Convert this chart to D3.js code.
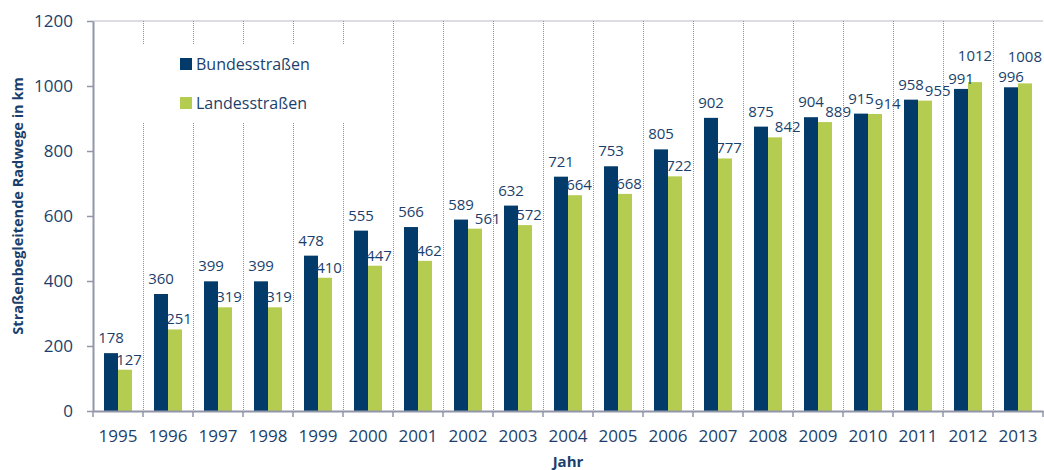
<!DOCTYPE html>
<html><head><meta charset="utf-8">
<script src="https://cdn.jsdelivr.net/npm/d3@7"></script>
<style>body{margin:0;background:#fff}svg{display:block;font-family:"Open Sans",sans-serif}</style>
</head><body><svg id="c" width="1044" height="470"></svg>
<script>
const years = ["1995","1996","1997","1998","1999","2000","2001","2002","2003","2004","2005","2006","2007","2008","2009","2010","2011","2012","2013"];
const bundes = [178,360,399,399,478,555,566,589,632,721,753,805,902,875,904,915,958,991,996];
const landes = [127,251,319,319,410,447,462,561,572,664,668,722,777,842,889,914,955,1012,1008];
const seriesNames = ["Bundesstraßen","Landesstraßen"];
const yTicks = [0,200,400,600,800,1000,1200];

const colors = ["#023a69","#b4cc50"];
const textCol = "#1b3f6c";
const svg = d3.select("#c");
const L = 93, R = 1043, T = 21, B = 411;
const x = d3.scaleBand().domain(years).range([L,R]).paddingInner(0.44).paddingOuter(0.22);
const x1 = d3.scaleBand().domain(seriesNames).range([0,x.bandwidth()]);
const y = d3.scaleLinear().domain([0,1200]).range([B,T]);
const step = x.step();
const boundary = c => x(c) - step*0.22;

// top border
svg.append("line").attr("x1",L).attr("x2",R).attr("y1",T).attr("y2",T).attr("stroke","#b8bcc8").attr("stroke-width",1);
// vertical dotted grid at category boundaries
svg.append("g").selectAll("line").data(years.slice(1)).join("line")
  .attr("x1",d=>Math.round(boundary(d))+0.5).attr("x2",d=>Math.round(boundary(d))+0.5)
  .attr("y1",T).attr("y2",B).attr("stroke","#9c8e7c").attr("stroke-width",1).attr("stroke-dasharray","1,1");

// legend background
svg.append("rect").attr("x",120).attr("y",45).attr("width",240).attr("height",78).attr("fill","#fff");

// bars
const data = years.map((yr,i)=>({yr, vals:[
  {s:seriesNames[0],v:bundes[i],k:0,o:landes[i]},
  {s:seriesNames[1],v:landes[i],k:1,o:bundes[i]}]}));
const g = svg.append("g").selectAll("g").data(data).join("g").attr("transform",d=>`translate(${x(d.yr)},0)`);
g.selectAll("rect").data(d=>d.vals).join("rect")
  .attr("x",d=>x1(d.s)).attr("width",x1.bandwidth())
  .attr("y",d=>y(d.v)).attr("height",d=>B-y(d.v)).attr("fill",d=>colors[d.k]);
g.each(function(d){
  const grp=d3.select(this);
  const labels = grp.selectAll("text").data(d.vals).join("text")
    .attr("x",v=>x1(v.s)+x1.bandwidth()/2+(v.k && v.v<=v.o?4:0))
    .attr("y",v=>y(v.v)-(v.k ? (v.v>v.o?21:5) : (v.o>v.v?5:10)))
    .attr("text-anchor","middle").attr("font-size","15px").attr("fill",textCol).text(v=>v.v);
  const nodes = labels.nodes();
  const a = nodes[0].getBBox(), b = nodes[1].getBBox();
  const vOverlap = !(b.y >= a.y+a.height-3 || b.y+b.height-3 <= a.y);
  if(vOverlap && b.x < a.x+a.width+1 && d.vals[1].v<=d.vals[0].v){
    const t=d3.select(nodes[1]); t.attr("x",+t.attr("x")+(a.x+a.width+1-b.x));
  }
  // keep inside chart width
  const tx = x(d.yr);
  nodes.forEach(n=>{
    const bb=n.getBBox();
    if(tx+bb.x+bb.width>1042){const t=d3.select(n); t.attr("x",+t.attr("x")-(tx+bb.x+bb.width-1042));}
  });
});

// axes
const yAxis = svg.append("g").attr("transform",`translate(${L},0)`)
  .call(d3.axisLeft(y).tickValues(yTicks).tickFormat(d3.format("d")).tickSize(6).tickPadding(14).tickSizeOuter(0));
const xAxis = svg.append("g").attr("transform",`translate(0,${B})`)
  .call(d3.axisBottom(x).tickSize(0).tickPadding(19).tickSizeOuter(0));
[yAxis,xAxis].forEach(a=>{
  a.select(".domain").attr("stroke","#9296a8").attr("stroke-width",2);
  a.selectAll("line").attr("stroke","#9296a8").attr("stroke-width",1.5);
  a.selectAll("text").attr("font-size","17px").attr("fill",textCol).attr("font-family","Open Sans");
});
// x boundary ticks
svg.append("g").selectAll("line").data(years.concat(["end"])).join("line")
  .attr("x1",d=>d==="end"?R:boundary(d)).attr("x2",d=>d==="end"?R:boundary(d))
  .attr("y1",B).attr("y2",B+6).attr("stroke","#9296a8").attr("stroke-width",1.5);

// legend
const lg = svg.append("g").selectAll("g").data(seriesNames).join("g")
  .attr("transform",(d,i)=>`translate(180,${58+i*39})`);
lg.append("rect").attr("width",12).attr("height",12).attr("fill",(d,i)=>colors[i]);
lg.append("text").attr("x",16).attr("y",12).attr("font-size","16px").attr("fill",textCol).text(d=>d);

// titles
svg.append("text").attr("transform","translate(23,206) rotate(-90)").attr("text-anchor","middle")
  .attr("font-size","14.5px").attr("font-weight","bold").attr("fill",textCol).text("Straßenbegleitende Radwege in km");
svg.append("text").attr("x",568).attr("y",467).attr("text-anchor","middle")
  .attr("font-size","15px").attr("font-weight","bold").attr("fill",textCol).text("Jahr");
</script></body></html>
